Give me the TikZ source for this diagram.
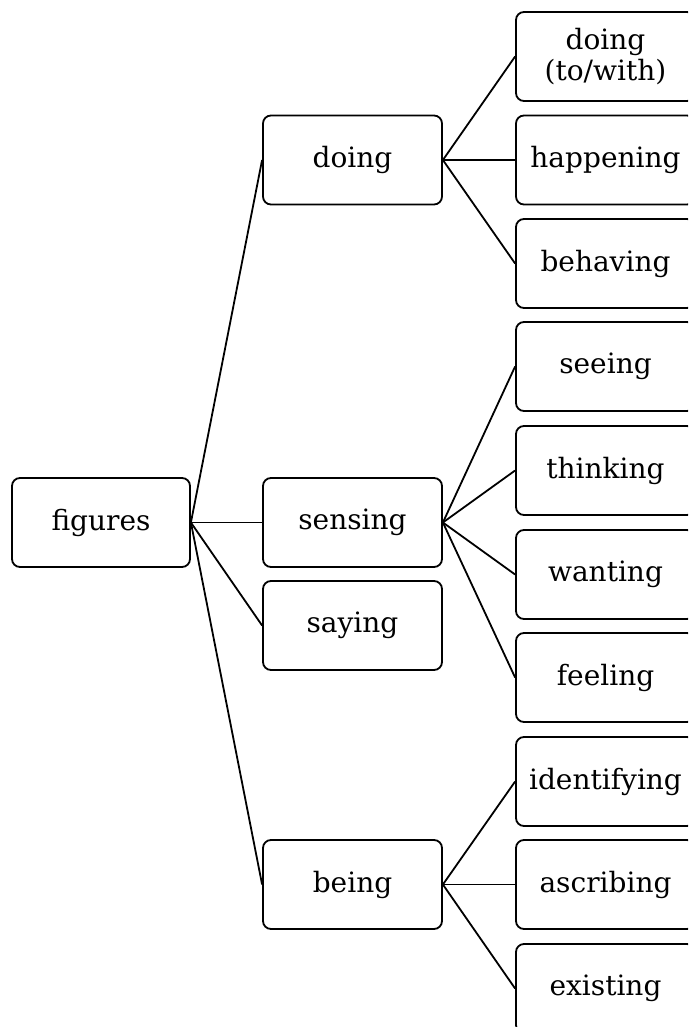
\documentclass[tikz,border=0pt]{standalone}
\usepackage{fontspec}
\setmainfont{DejaVu Serif}
\begin{document}
\begin{tikzpicture}[x=1pt,y=-1pt,
  box/.style={draw, line width=1.8pt, rounded corners=8pt, minimum width=179pt, minimum height=89pt,
    inner sep=0pt, align=center, font=\fontsize{28}{31}\selectfont},
  link/.style={line width=1.8pt}]
  \useasboundingbox (0,0) rectangle (688,1027);
  \clip (0,0) rectangle (688,1027);
  % root
  \node[box, minimum width=178pt] (fig) at (101,522.5) {figures};
  % process types
  \node[box] (doing) at (352.5,160) {doing};
  \node[box] (sensing) at (352.5,522.5) {sensing};
  \node[box] (saying) at (352.5,625.5) {saying};
  \node[box] (being) at (352.5,884.5) {being};
  % subtypes
  \node[box] (dtw) at (605.5,56.5) {doing\\(to/with)};
  \node[box] (hap) at (605.5,160) {happening};
  \node[box] (beh) at (605.5,263.5) {behaving};
  \node[box] (see) at (605.5,366.5) {seeing};
  \node[box] (thi) at (605.5,470.5) {thinking};
  \node[box] (wan) at (605.5,574.5) {wanting};
  \node[box] (fee) at (605.5,677.5) {feeling};
  \node[box] (ide) at (605.5,781.5) {identifying};
  \node[box] (asc) at (605.5,884.5) {ascribing};
  \node[box] (exi) at (605.5,988.5) {existing};
  % connectors
  \foreach \c in {doing,sensing,saying,being} \draw[link] (fig.east) -- (\c.west);
  \foreach \c in {dtw,hap,beh} \draw[link] (doing.east) -- (\c.west);
  \foreach \c in {see,thi,wan,fee} \draw[link] (sensing.east) -- (\c.west);
  \foreach \c in {ide,asc,exi} \draw[link] (being.east) -- (\c.west);
\end{tikzpicture}
\end{document}
